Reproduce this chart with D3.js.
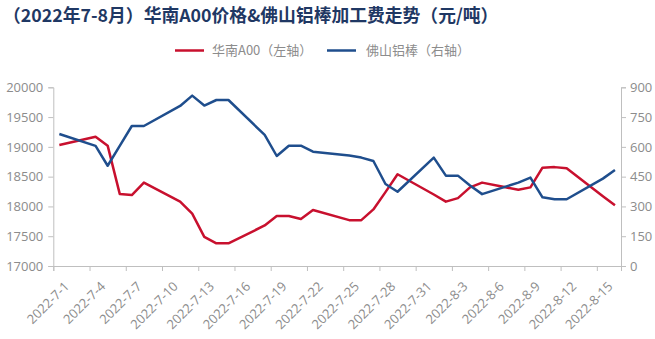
<!DOCTYPE html>
<html>
<head>
<meta charset="utf-8">
<script src="https://cdn.jsdelivr.net/npm/d3@7"></script>
<style>
  html, body { margin: 0; padding: 0; background: #fff; }
  svg { display: block; }
</style>
</head>
<body>
<svg id="chart" width="655" height="339"></svg>
<script>
// Trading days (2022) and the two series
const dates = ["2022-07-01","2022-07-04","2022-07-05","2022-07-06","2022-07-07","2022-07-08",
  "2022-07-11","2022-07-12","2022-07-13","2022-07-14","2022-07-15",
  "2022-07-18","2022-07-19","2022-07-20","2022-07-21","2022-07-22",
  "2022-07-25","2022-07-26","2022-07-27","2022-07-28","2022-07-29",
  "2022-08-01","2022-08-02","2022-08-03","2022-08-04","2022-08-05",
  "2022-08-08","2022-08-09","2022-08-10","2022-08-11","2022-08-12",
  "2022-08-15","2022-08-16"];

// 华南A00 price (left axis, 元/吨)
const a00Price = [19030,19170,19020,18210,18190,18400,
  18080,17880,17490,17380,17380,
  17680,17840,17840,17790,17940,
  17770,17770,17950,18240,18540,
  18200,18080,18140,18320,18400,
  18280,18320,18650,18660,18640,
  18170,18020];

// 佛山铝棒 processing fee (right axis, 元/吨)
const rodFee = [665,605,505,605,705,705,
  806,858,808,836,836,
  660,554,606,606,576,
  557,546,529,413,374,
  546,455,455,405,362,
  420,445,346,336,336,
  440,483];

const leftTicks = [17000,17500,18000,18500,19000,19500,20000];
const rightTicks = [0,150,300,450,600,750,900];
const axisStart = "2022-07-01";
const axisEnd = "2022-08-17";

const titleText = "（2022年7-8月）华南A00价格&佛山铝棒加工费走势（元/吨）";
const seriesNames = ["华南A00（左轴）", "佛山铝棒（右轴）"];
const seriesColors = ["#C8102E", "#1F4E8D"];

const parse = d3.timeParse("%Y-%m-%d");
const fmt = d3.timeFormat("%Y-%-m-%-d");

const svg = d3.select("#chart");
const margin = { left: 53.3, right: 621, top: 87.3, bottom: 266 };
const axisColor = "#bfbfbf";
const labelColor = "#8c8c8c";
const font = "'Open Sans', 'Noto Sans CJK SC', sans-serif";

// Date axis: each day occupies one slot, points sit mid-slot
const x = d3.scaleTime()
  .domain([parse(axisStart), parse(axisEnd)])
  .range([margin.left, margin.right]);
const halfDay = d => d3.timeHour.offset(d, 12);

const yL = d3.scaleLinear().domain([17000, 20000]).range([margin.bottom, margin.top]);
const yR = d3.scaleLinear().domain([0, 900]).range([margin.bottom, margin.top]);

// Title
svg.append("text")
  .attr("x", 3).attr("y", 22)
  .attr("font-family", "'Noto Sans CJK SC', sans-serif")
  .attr("font-weight", "bold")
  .attr("font-size", 17.8)
  .attr("fill", "#1F3864")
  .text(titleText);

// Legend
const legend = svg.append("g").attr("font-family", "'Noto Sans CJK SC', sans-serif");
const legendItems = [{ x: 175, tx: 212 }, { x: 327, tx: 366 }];
legendItems.forEach((it, i) => {
  legend.append("line")
    .attr("x1", it.x).attr("x2", it.x + 29)
    .attr("y1", 50.5).attr("y2", 50.5)
    .attr("stroke", seriesColors[i]).attr("stroke-width", 2.5);
  legend.append("text")
    .attr("x", it.tx).attr("y", 55)
    .attr("font-size", 13)
    .attr("fill", labelColor)
    .text(seriesNames[i]);
});

// Left axis
const gL = svg.append("g").attr("transform", `translate(${margin.left},0)`)
  .call(d3.axisLeft(yL).tickValues(leftTicks).tickSize(5).tickPadding(5).tickFormat(d3.format("d")));
// Right axis
const gR = svg.append("g").attr("transform", `translate(${margin.right},0)`)
  .call(d3.axisRight(yR).tickValues(rightTicks).tickSize(5).tickPadding(4).tickFormat(d3.format("d")));
// Bottom axis
const xTicks = d3.timeDay.range(parse(axisStart), parse(axisEnd), 3);
const gX = svg.append("g").attr("transform", `translate(0,${margin.bottom})`)
  .call(d3.axisBottom(x).tickValues(xTicks).tickSize(5).tickFormat(fmt));

[gL, gR, gX].forEach(g => {
  g.select(".domain").attr("stroke", axisColor).attr("stroke-width", 1);
  g.selectAll(".tick line").attr("stroke", axisColor);
  g.selectAll(".tick text")
    .attr("fill", labelColor)
    .attr("font-family", font)
    .attr("font-size", 13);
});

gX.selectAll(".tick text")
  .attr("text-anchor", "end")
  .attr("dy", "0.35em")
  .attr("transform", "translate(13,18) rotate(-45)")
  .attr("y", 0).attr("x", 0);

// Lines
const rows = dates.map((d, i) => ({ date: halfDay(parse(d)), a00: a00Price[i], fee: rodFee[i] }));

const lineA00 = d3.line().x(d => x(d.date)).y(d => yL(d.a00));
const lineFee = d3.line().x(d => x(d.date)).y(d => yR(d.fee));

svg.append("path").datum(rows)
  .attr("d", lineA00)
  .attr("fill", "none")
  .attr("stroke", seriesColors[0])
  .attr("stroke-width", 2.5)
  .attr("stroke-linejoin", "round");

svg.append("path").datum(rows)
  .attr("d", lineFee)
  .attr("fill", "none")
  .attr("stroke", seriesColors[1])
  .attr("stroke-width", 2.5)
  .attr("stroke-linejoin", "round");
</script>
</body>
</html>
